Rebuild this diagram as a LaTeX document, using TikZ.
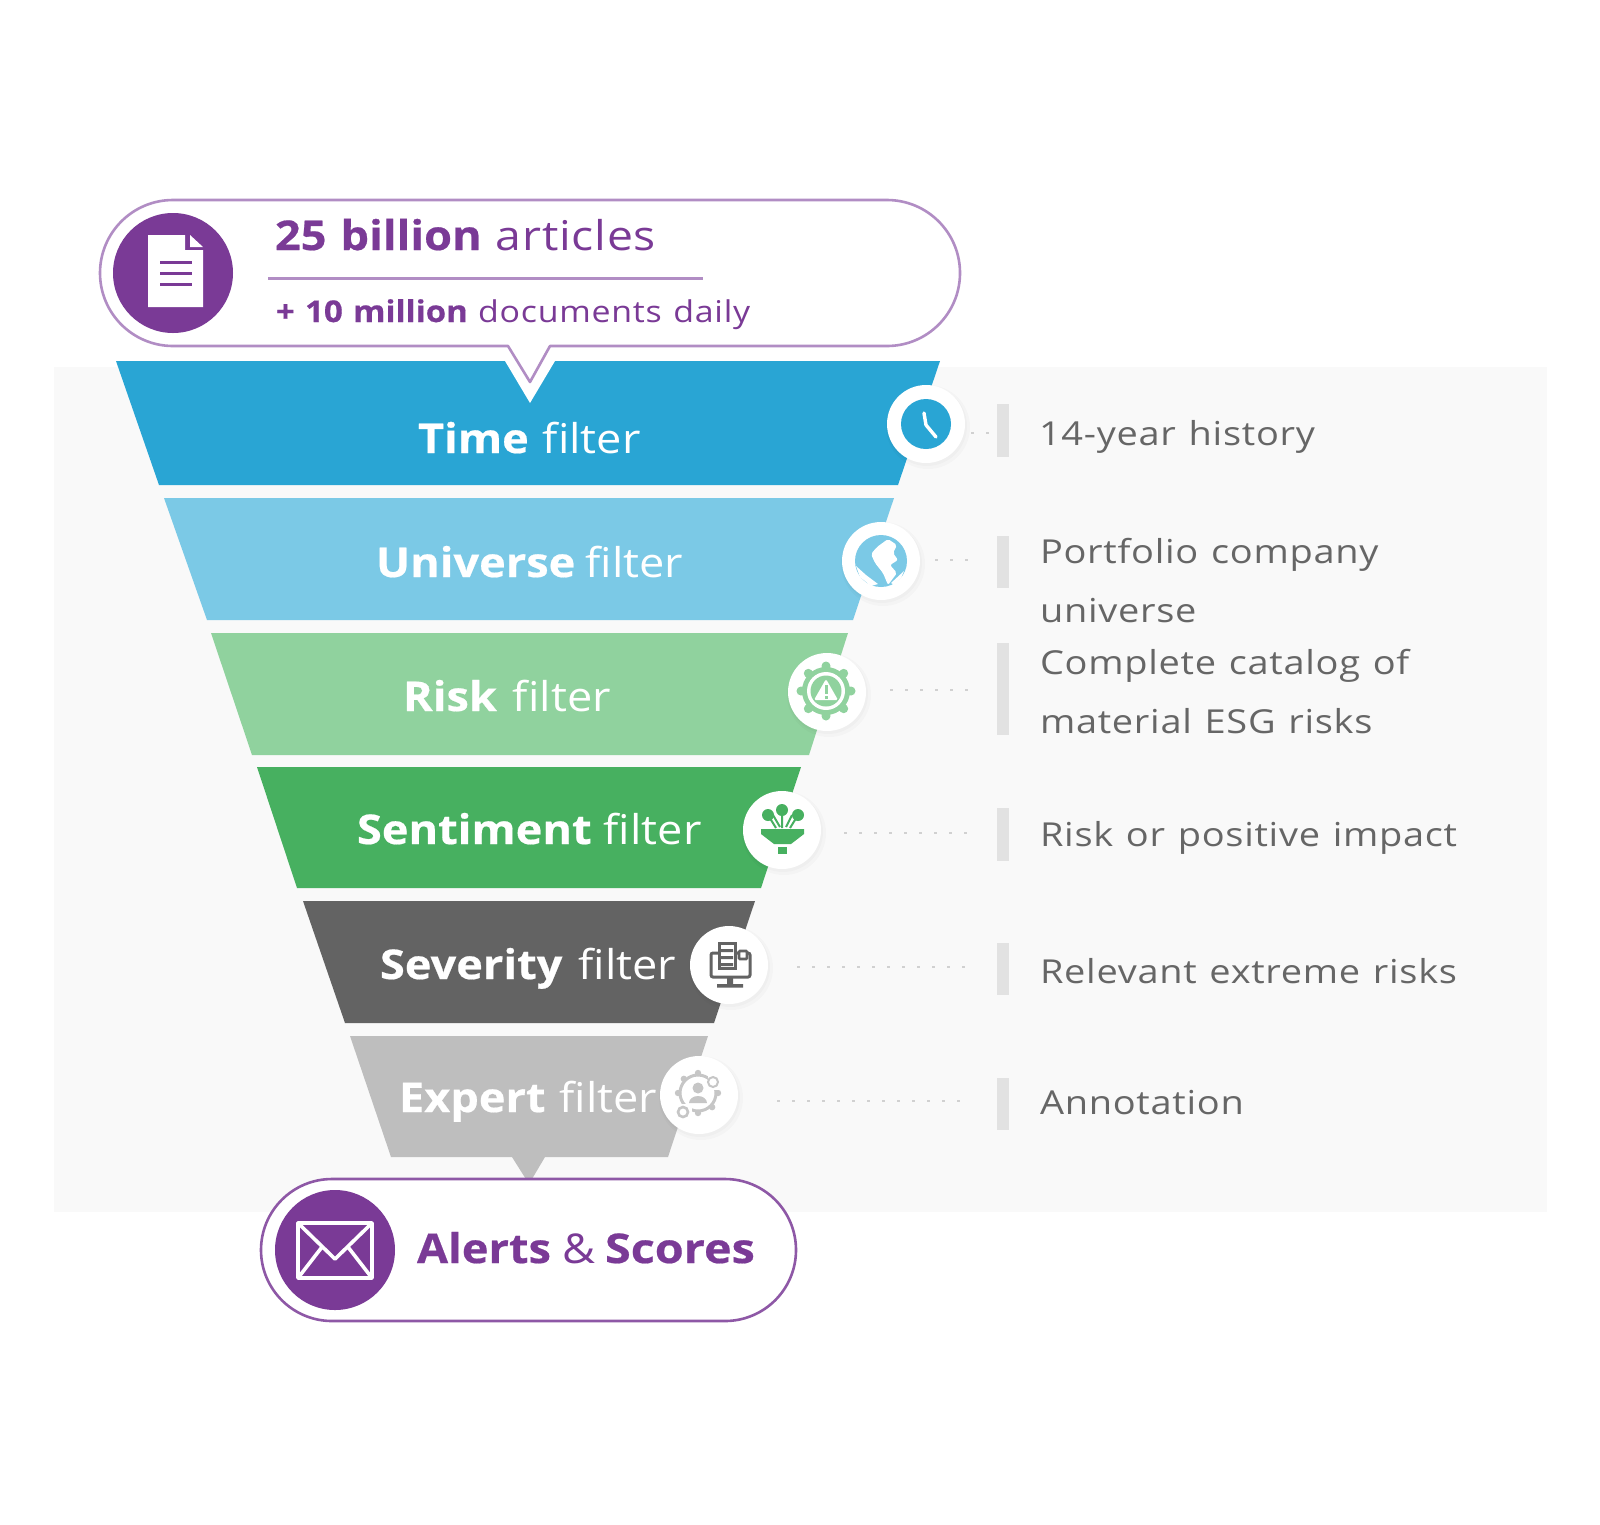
\documentclass[tikz,border=0pt]{standalone}
\usepackage{fontspec}
\setmainfont{Open Sans}[FakeStretch=1.10,WordSpace=1.2,Ligatures=NoCommon,BoldFeatures={FakeBold=0.5}]
\newcommand{\bfam}{\bfseries}
\definecolor{cblue}{HTML}{29A5D4}
\definecolor{clblue}{HTML}{7BC9E6}
\definecolor{clgreen}{HTML}{90D29E}
\definecolor{cgreen}{HTML}{47B060}
\definecolor{cdark}{HTML}{636363}
\definecolor{cgray}{HTML}{BEBEBE}
\definecolor{cicon}{HTML}{C6C6C6}
\definecolor{cpurple}{HTML}{7A3A96}
\definecolor{cline}{HTML}{B18DC4}
\definecolor{cbg}{HTML}{F9F9F9}
\definecolor{cbar}{HTML}{E2E2E2}
\definecolor{ctext}{HTML}{666666}
\newcommand{\fs}[1]{\fontsize{#1}{#1}\selectfont}
\tikzset{
  txt/.style={anchor=base west,inner sep=0pt,outer sep=0pt},
  hsmall/.style={txt,text=cpurple},
  band/.style={txt,text=white,font=\fs{41}},
  side/.style={txt,text=ctext,font=\fs{33}\addfontfeatures{FakeStretch=1.15,LetterSpace=2.2}},
  badge/.style={circle,fill=white,minimum size=78pt,inner sep=0pt,outer sep=0pt},
  barbox/.style={fill=cbar,minimum width=12pt,inner sep=0pt,outer sep=0pt},
  dots/.style={draw=black!18,line width=2.6pt,dash pattern=on 2.6pt off 12.4pt},
  pill/.style={fill=white,draw=cline,line width=2.6pt,line join=round},
  wline/.style={draw=white,line width=4pt,line cap=round,line join=round},
}
\begin{document}
\begin{tikzpicture}[x=1pt,y=-1pt]
\useasboundingbox (0,0) rectangle (1600,1524);
\fill[white] (0,0) rectangle (1600,1524);
\fill[cbg] (54,367) rectangle (1547,1212);
% funnel bands
\fill[cblue] (116,361) -- (940,361) -- (898,485) -- (159,485) -- cycle;
\fill[clblue] (164,498) -- (894,498) -- (853,620) -- (207,620) -- cycle;
\fill[clgreen] (211,633) -- (848,633) -- (809,755) -- (252,755) -- cycle;
\fill[cgreen] (257,767) -- (801,767) -- (761,888) -- (297,888) -- cycle;
\fill[cdark] (303,901) -- (755,901) -- (714,1023) -- (345,1023) -- cycle;
\fill[cgray] (350,1036) -- (708,1036) -- (668,1157) -- (545,1157) -- (529,1184) -- (512,1157) -- (391,1157) -- cycle;
% top pill
\fill[white] (505,361) -- (555,361) -- (530,403) -- cycle;
\path[pill] (550,346) -- (887,346) arc (90:-90:73) -- (173,200) arc (-90:-270:73) -- (508,346) -- (530,382) -- cycle;
\fill[cpurple] (173,273) circle (60);
\fill[white] (148,235) -- (185,235) -- (185,250) -- (203,250) -- (203,307) -- (148,307) -- cycle;
\fill[white] (190,235) -- (203,247) -- (190,247) -- cycle;
\draw[cpurple,line width=3pt] (160,262) -- (192,262) (160,273) -- (192,273) (160,284) -- (192,284);
\draw[cline,line width=3pt] (268,278) -- (703,278);
\node[hsmall,font=\fs{41}] (headA) at (275,250) {{\bfam 25 billion} {\addfontfeatures{FakeStretch=1.13,LetterSpace=2}articles}};
\node[hsmall,font=\fs{30}] (headB) at (276,322) {{\bfam + 10 million} {\addfontfeatures{FakeStretch=1.13,LetterSpace=2.5}documents daily}};
% bottom pill
\draw[fill=white,draw=cpurple!85,line width=2.6pt,rounded corners=71pt] (261,1179) rectangle (796,1321);
\fill[cpurple] (335,1250) circle (60);
\draw[wline,line width=3.6pt] (298,1223) rectangle (372,1278);
\draw[wline,line width=3.6pt] (298,1223) -- (335,1259) -- (372,1223) (298,1278) -- (322,1247) (372,1278) -- (348,1247);
\node[txt,text=cpurple,font=\fs{41}] (alerts) at (417,1263) {{\bfam Alerts}\hspace{-3pt} \& \hspace{-4pt}{\bfam\addfontfeatures{FakeStretch=1.14}Scores}};
% band labels
\node[band] (tTime) at (418,453) {{\bfam Time} filter};
\node[band] (tUni) at (376,577) {{\bfam Universe}\hspace{-4pt} filter};
\node[band] (tRisk) at (403,711) {{\bfam Risk}\hspace{2pt} filter};
\node[band] (tSent) at (357,844) {{\bfam Sentiment}\hspace{-2pt} filter};
\node[band] (tSev) at (380,979) {{\bfam Severity}\hspace{2pt} filter};
\node[band] (tExp) at (399,1112) {{\bfam Expert} filter};
% shadows
\foreach \cx/\cy in {926/424,881/561,827/692,782/830,729/965,699/1095}{
  \fill[black,opacity=.02] (\cx+2,\cy+3) circle (42);
  \fill[black,opacity=.02] (\cx+1,\cy+2) circle (40);
}
% badges
\node[badge] (bTime) at (926,424) {};
\node[badge] (bUni) at (881,561) {};
\node[badge] (bRisk) at (827,692) {};
\node[badge] (bSent) at (782,830) {};
\node[badge] (bSev) at (729,965) {};
\node[badge] (bExp) at (699,1095) {};
% clock
\fill[cblue] (bTime) circle (25);
\draw[white,line width=3.4pt,line cap=round,line join=round] (924,413) -- (926,425) -- (936,437);
% globe
\fill[clblue] (bUni) circle (26);
\fill[white,rounded corners=2pt] (871,554) -- (877,547) -- (888,539) -- (897,545) -- (893,553) -- (898,560) -- (890,565) -- (897,573) -- (888,585) -- (883,573) -- (875,563) -- cycle;
\fill[white] (856,566) -- (866,575) -- (878,584) -- (871,586) -- (860,577) -- cycle;
\fill[white] (891,583) -- (904,571) -- (901,578) -- (895,585) -- cycle;
% gear
\fill[clgreen] (826,691) circle (24);
\foreach \a in {0,45,...,315}{\fill[clgreen] (826,691) ++(\a:25) circle (4.5);}
\fill[white] (826,691) circle (19);
\fill[clgreen] (826,691) circle (15.5);
\fill[white,rounded corners=1.5pt] (826,679) -- (838,700) -- (814,700) -- cycle;
\fill[clgreen] (824.5,685) rectangle (827.5,694);
\fill[clgreen] (824.5,696) rectangle (827.5,698.5);
% funnel icon
\fill[cgreen] (768,815) circle (6) (782,810) circle (6) (798,815) circle (6);
\draw[cgreen,line width=2pt] (768,815) -- (776,828) (782,810) -- (782,828) (798,815) -- (790,828) (773,815) -- (780,827) (792,815) -- (786,827);
\fill[cgreen] (761,829) -- (804,829) -- (804,834) -- (791,844) -- (774,844) -- (761,834) -- cycle;
\fill[cgreen] (778,847) rectangle (787,854);
% monitor icon
\draw[cdark,line width=3pt,rounded corners=2pt] (711,953) rectangle (750,977);
\fill[cdark] (727,977) rectangle (733,985) (717,984) rectangle (743,987.5);
\draw[cdark,line width=3pt,fill=white] (719,943) rectangle (735,968);
\fill[cdark] (721,949) rectangle (733,952) (721,956) rectangle (733,959) (721,963) rectangle (733,966);
\draw[cdark,line width=2.6pt,fill=white,rounded corners=1pt] (739,951) rectangle (747,959);
% expert icon
\draw[cicon,line width=3pt] (698,1093) circle (18);
\foreach \a in {0,45,...,315}{\fill[cicon] (698,1093) ++(\a:20) circle (3.2);}
\fill[white] (708,1072) rectangle (724,1090);
\draw[cicon,line width=2pt] (713,1082) circle (5);
\fill[cicon] (698,1088) circle (5.5);
\fill[cicon] (689,1103) arc (180:360:9 and 7) -- cycle;
\fill[white] (676,1104) rectangle (692,1120);
\draw[cicon,line width=2.6pt] (683,1112) circle (5);
% bars
\node[barbox,minimum height=53pt] (barA) at (1003,430) {};
\node[barbox,minimum height=52pt] (barB) at (1003,562) {};
\node[barbox,minimum height=92pt] (barC) at (1003,689) {};
\node[barbox,minimum height=53pt] (barD) at (1003,834) {};
\node[barbox,minimum height=52pt] (barE) at (1003,969) {};
\node[barbox,minimum height=52pt] (barF) at (1003,1104) {};
% dotted connectors
\coordinate (sA) at (971,433);  \coordinate (eA) at (989,433);
\coordinate (sB) at (935,560);  \coordinate (eB) at (970,560);
\coordinate (sC) at (890,690);  \coordinate (eC) at (970,690);
\coordinate (sD) at (844,833);  \coordinate (eD) at (970,833);
\coordinate (sE) at (797,967);  \coordinate (eE) at (970,967);
\coordinate (sF) at (777,1101); \coordinate (eF) at (965,1101);
\foreach \n in {A,B,C,D,E,F}{\draw[dots] (s\n) -- (e\n);}
% side labels
\node[side] (lA) at (1039,445) {14-year history};
\node[side] (lB1) at (1040,563) {Portfolio company};
\node[side] (lB2) at (1040,622) {universe};
\node[side] (lC1) at (1040,674) {Complete catalog of};
\node[side] (lC2) at (1040,733) {material ESG risks};
\node[side] (lD) at (1040,846) {Risk or positive impact};
\node[side] (lE) at (1040,983) {Relevant extreme risks};
\node[side] (lF) at (1040,1114) {Annotation};
\end{tikzpicture}
\end{document}
